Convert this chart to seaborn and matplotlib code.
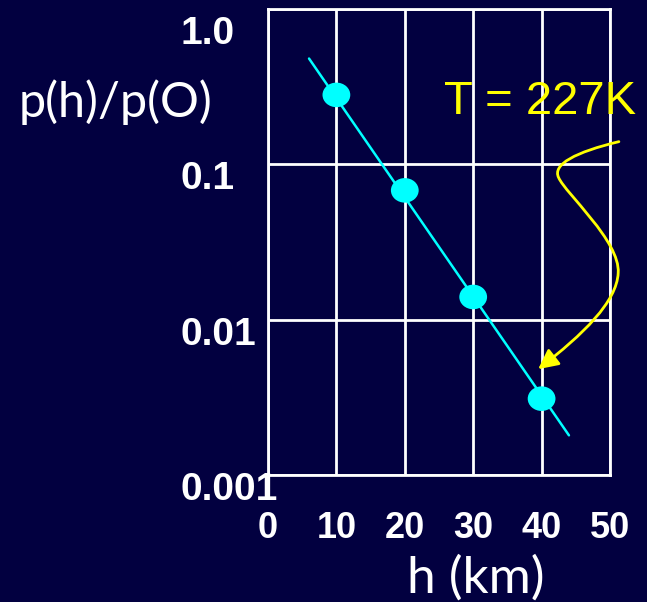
import matplotlib
matplotlib.use('Agg')
import matplotlib.pyplot as plt
import matplotlib.transforms as mtransforms
import seaborn as sns
from matplotlib.path import Path
from matplotlib.patches import FancyArrowPatch

# data
heights = [10, 20, 30, 40]
pressure_ratio = [0.28, 0.068, 0.014, 0.0031]
fit_h = [6, 44]
fit_p = [0.48, 0.0018]
x_ticks = [0, 10, 20, 30, 40, 50]
y_ticks = [1.0, 0.1, 0.01, 0.001]
y_tick_labels = ['1.0', '0.1', '0.01', '0.001']

bg = '#020040'
sns.set_theme(style='dark')
plt.rcParams['font.family'] = ['Liberation Sans', 'DejaVu Sans']

fig = plt.figure(figsize=(6.47, 6.02), dpi=100, facecolor=bg)
ax = fig.add_axes([0.4142, 0.211, 0.5286, 0.774])
ax.set_facecolor(bg)

# fitted line and measured points
sns.lineplot(x=fit_h, y=fit_p, color='#00ffff', linewidth=1.8, ax=ax, zorder=3)
circle = Path.unit_circle()
ellipse = Path(circle.vertices * [1.13, 1.0], circle.codes)
sns.scatterplot(x=heights, y=pressure_ratio, color='#00ffff', marker=ellipse,
                s=400, edgecolor='none', ax=ax, zorder=4)

ax.set_yscale('log')
ax.set_xlim(0, 50)
ax.set_ylim(0.001, 1.0)
ax.set_xticks(x_ticks)
ax.set_xticklabels([str(t) for t in x_ticks], fontsize=26, fontweight='bold', color='white')
ax.set_yticks(y_ticks)
ax.set_yticklabels(y_tick_labels, fontsize=28, fontweight='bold', color='white', ha='left')
ax.minorticks_off()
ax.tick_params(axis='x', length=0, pad=26)
ax.tick_params(axis='y', length=0, pad=63)
# labels sit a little below their gridlines in the original
shift = mtransforms.ScaledTranslation(0, -8 / 72, fig.dpi_scale_trans)
for lab in ax.get_yticklabels():
    lab.set_transform(lab.get_transform() + shift)
ax.get_yticklabels()[0].set_transform(ax.get_yticklabels()[0].get_transform()
                                      + mtransforms.ScaledTranslation(0, -7 / 72, fig.dpi_scale_trans))
ax.grid(True, color='white', linewidth=2)
for sp in ax.spines.values():
    sp.set_color('white')
    sp.set_linewidth(2)
    sp.set_visible(True)

fig.text(0.029, 0.83, 'p(h)/p(O)', fontsize=35, color='white',
         family=['Lato', 'DejaVu Sans'], va='center', ha='left')
fig.text(0.736, 0.04, 'h (km)', fontsize=37, color='white',
         family=['Lato', 'DejaVu Sans'], va='center', ha='center')
fig.text(0.686, 0.83, 'T = 227K', fontsize=34,
         color='#ffff00', va='center', ha='left')

# curly yellow arrow pointing to the 40 km point
verts = [(51.3, 0.14), (45, 0.12), (41.5, 0.1), (42.5, 0.082),
         (43.5, 0.065), (51.5, 0.032), (51.2, 0.02),
         (51, 0.013), (46, 0.008), (39.5, 0.0048)]
codes = [Path.MOVETO] + [Path.CURVE4] * 9
arrow = FancyArrowPatch(path=Path(verts, codes), arrowstyle='-|>,head_length=12,head_width=6',
                        color='#ffff00', linewidth=2, clip_on=False, zorder=5)
ax.add_patch(arrow)

fig.savefig('out.png', dpi=100, facecolor=bg)
